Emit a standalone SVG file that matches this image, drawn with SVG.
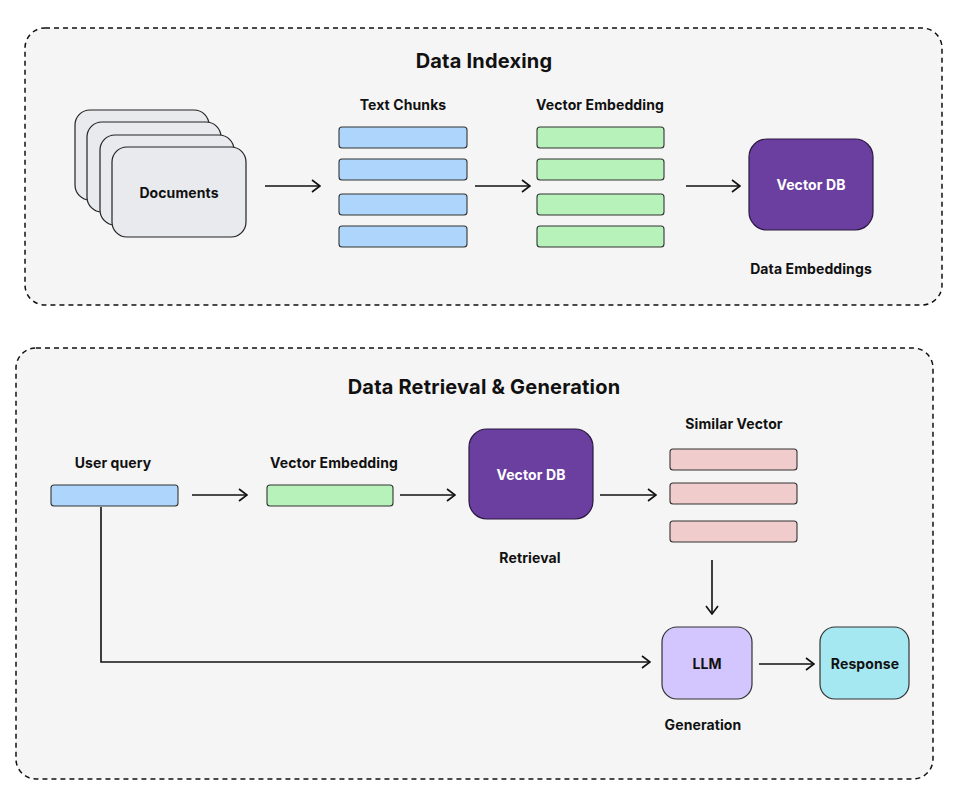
<svg xmlns="http://www.w3.org/2000/svg" width="959" height="799" viewBox="0 0 959 799">
<style>
.panel{fill:#f5f5f5;stroke:#111;stroke-width:1.5;stroke-dasharray:5 4}
.doc{fill:#e9eaee;stroke:#222;stroke-width:1.2}
.bar{stroke:#333;stroke-width:1.1}
.blue{fill:#aed6fd}
.green{fill:#b8f2bb}
.pink{fill:#f0cdcc}
.db{fill:#6b3fa0;stroke:#2a1840;stroke-width:1.2}
.lbl{font-family:Inter,"Noto Sans",sans-serif;font-weight:700;font-size:14px;fill:#111;text-anchor:middle;letter-spacing:0.1px}
.ttl{font-family:Inter,"Noto Sans",sans-serif;font-weight:700;font-size:20px;fill:#111;text-anchor:middle;letter-spacing:0.2px}
.wht{fill:#fff}
.conn{stroke:#111;stroke-width:1.6;fill:none}
</style>
<defs>
<marker id="ah" viewBox="0 0 12 16" refX="11" refY="8" markerWidth="12" markerHeight="16" markerUnits="userSpaceOnUse" orient="auto">
<path d="M3 2 L11 8 L3 14" fill="none" stroke="#111" stroke-width="1.6"/>
</marker>
</defs>
<rect class="panel" x="25" y="28" width="917" height="277" rx="20"/>
<rect class="panel" x="16" y="348" width="917" height="431" rx="20"/>
<text class="ttl" x="484" y="68">Data Indexing</text>
<text class="ttl" x="484" y="394">Data Retrieval &amp; Generation</text>

<g id="documents">
<rect class="doc" x="75" y="110" width="134" height="90" rx="15"/>
<rect class="doc" x="87" y="122" width="134" height="90" rx="15"/>
<rect class="doc" x="100" y="135" width="134" height="90" rx="15"/>
<rect class="doc" x="112" y="147" width="134" height="90" rx="15"/>
<text class="lbl" x="179" y="198">Documents</text>
</g>
<g id="text-chunks">
<text class="lbl" x="403" y="110">Text Chunks</text>
<rect class="bar blue" x="339" y="127" width="128" height="21" rx="3"/>
<rect class="bar blue" x="339" y="159" width="128" height="21" rx="3"/>
<rect class="bar blue" x="339" y="194" width="128" height="21" rx="3"/>
<rect class="bar blue" x="339" y="226" width="128" height="21" rx="3"/>
</g>
<g id="vector-embedding-1">
<text class="lbl" x="600" y="110">Vector Embedding</text>
<rect class="bar green" x="537" y="127" width="127" height="21" rx="3"/>
<rect class="bar green" x="537" y="159" width="127" height="21" rx="3"/>
<rect class="bar green" x="537" y="194" width="127" height="21" rx="3"/>
<rect class="bar green" x="537" y="226" width="127" height="21" rx="3"/>
</g>
<g id="vector-db-1">
<rect class="db" x="749" y="139" width="124" height="91" rx="18"/>
<text class="lbl wht" x="811" y="190">Vector DB</text>
<text class="lbl" x="811" y="274">Data Embeddings</text>
</g>

<g id="user-query">
<text class="lbl" x="113" y="468">User query</text>
<rect class="bar blue" x="51" y="485" width="127" height="21" rx="3"/>
</g>
<g id="vector-embedding-2">
<text class="lbl" x="334" y="468">Vector Embedding</text>
<rect class="bar green" x="267" y="485" width="126" height="21" rx="3"/>
</g>
<g id="vector-db-2">
<rect class="db" x="469" y="429" width="124" height="90" rx="18"/>
<text class="lbl wht" x="531" y="480">Vector DB</text>
<text class="lbl" x="530" y="563">Retrieval</text>
</g>
<g id="similar-vector">
<text class="lbl" x="734" y="429">Similar Vector</text>
<rect class="bar pink" x="670" y="449" width="127" height="21" rx="3"/>
<rect class="bar pink" x="670" y="483" width="127" height="21" rx="3"/>
<rect class="bar pink" x="670" y="521" width="127" height="21" rx="3"/>
</g>
<g id="llm">
<rect x="662" y="627" width="90" height="72" rx="15" fill="#d3c5fd" stroke="#333" stroke-width="1.2"/>
<text class="lbl" x="707" y="669">LLM</text>
<text class="lbl" x="703" y="730">Generation</text>
</g>
<g id="response">
<rect x="820" y="627" width="89" height="72" rx="15" fill="#a6e8f2" stroke="#333" stroke-width="1.2"/>
<text class="lbl" x="865" y="669">Response</text>
</g>

<g id="connectors">
<line class="conn" x1="265" y1="186" x2="320" y2="186" marker-end="url(#ah)"/>
<line class="conn" x1="475" y1="186" x2="530" y2="186" marker-end="url(#ah)"/>
<line class="conn" x1="686" y1="186" x2="740" y2="186" marker-end="url(#ah)"/>
<line class="conn" x1="192" y1="495" x2="247" y2="495" marker-end="url(#ah)"/>
<line class="conn" x1="400" y1="495" x2="455" y2="495" marker-end="url(#ah)"/>
<line class="conn" x1="600" y1="495" x2="656" y2="495" marker-end="url(#ah)"/>
<line class="conn" x1="712" y1="560" x2="712" y2="614" marker-end="url(#ah)"/>
<polyline class="conn" points="101,507 101,662 650,662" marker-end="url(#ah)"/>
<line class="conn" x1="759" y1="664" x2="814" y2="664" marker-end="url(#ah)"/>
</g>
</svg>
